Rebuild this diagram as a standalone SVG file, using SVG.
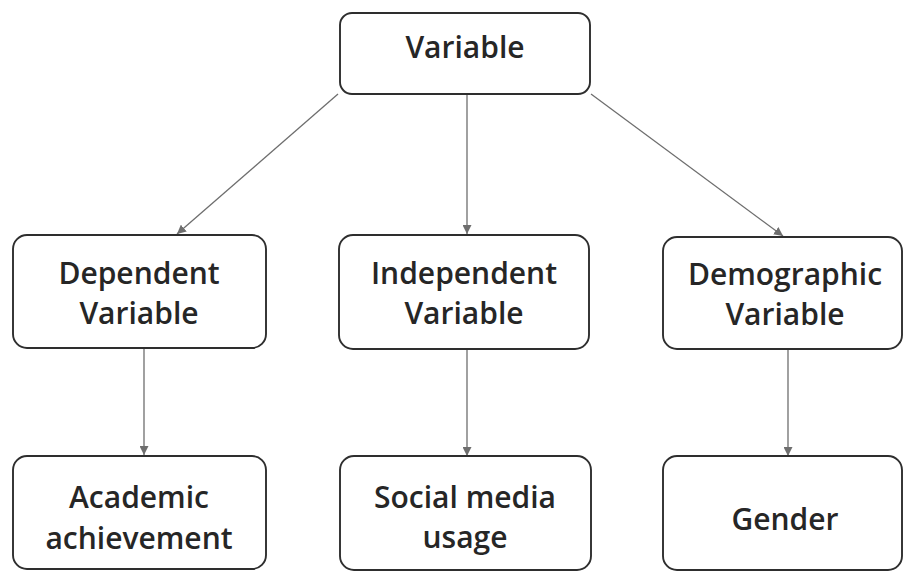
<svg xmlns="http://www.w3.org/2000/svg" width="904" height="573" viewBox="0 0 904 573">
<style>
.box{fill:#ffffff;stroke:#2e2e2e;stroke-width:1.9}
.lbl{font-family:"Open Sans","Noto Sans",sans-serif;font-size:30px;font-weight:600;fill:#262626;text-anchor:middle}
.con{stroke:#6e6e6e;stroke-width:1.3;fill:none;marker-end:url(#ah)}
</style>
<defs>
<marker id="ah" viewBox="0 0 10 10" refX="10" refY="5" markerWidth="9" markerHeight="9" markerUnits="userSpaceOnUse" orient="auto">
<path d="M0,0 L10,5 L0,10 z" fill="#6e6e6e"/>
</marker>
</defs>
<rect width="904" height="573" fill="#ffffff"/>
<g id="connectors">
<line class="con" x1="338" y1="94" x2="177" y2="234"/>
<line class="con" x1="467" y1="95" x2="467" y2="234"/>
<line class="con" x1="591" y1="94" x2="783" y2="236"/>
<line class="con" x1="144" y1="349" x2="144" y2="455"/>
<line class="con" x1="467" y1="349" x2="467" y2="456"/>
<line class="con" x1="788" y1="349" x2="788" y2="456"/>
</g>
<g id="variable">
<rect class="box" x="340" y="13" width="250" height="81" rx="12"/>
<text class="lbl" x="465" y="58">Variable</text>
</g>
<g id="dependent">
<rect class="box" x="13" y="235" width="253" height="113" rx="14"/>
<text class="lbl" x="139" y="284">Dependent</text>
<text class="lbl" x="139" y="324">Variable</text>
</g>
<g id="independent">
<rect class="box" x="339" y="235" width="250" height="114" rx="14"/>
<text class="lbl" x="464" y="284">Independent</text>
<text class="lbl" x="464" y="324">Variable</text>
</g>
<g id="demographic">
<rect class="box" x="663" y="237" width="239" height="112" rx="14"/>
<text class="lbl" x="785" y="285">Demographic</text>
<text class="lbl" x="785" y="325">Variable</text>
</g>
<g id="academic">
<rect class="box" x="13" y="456" width="253" height="113" rx="14"/>
<text class="lbl" x="139" y="508">Academic</text>
<text class="lbl" x="139" y="549">achievement</text>
</g>
<g id="social">
<rect class="box" x="340" y="456" width="251" height="114" rx="14"/>
<text class="lbl" x="465" y="508">Social media</text>
<text class="lbl" x="465" y="548">usage</text>
</g>
<g id="gender">
<rect class="box" x="663" y="456" width="239" height="114" rx="14"/>
<text class="lbl" x="785" y="530">Gender</text>
</g>
</svg>
